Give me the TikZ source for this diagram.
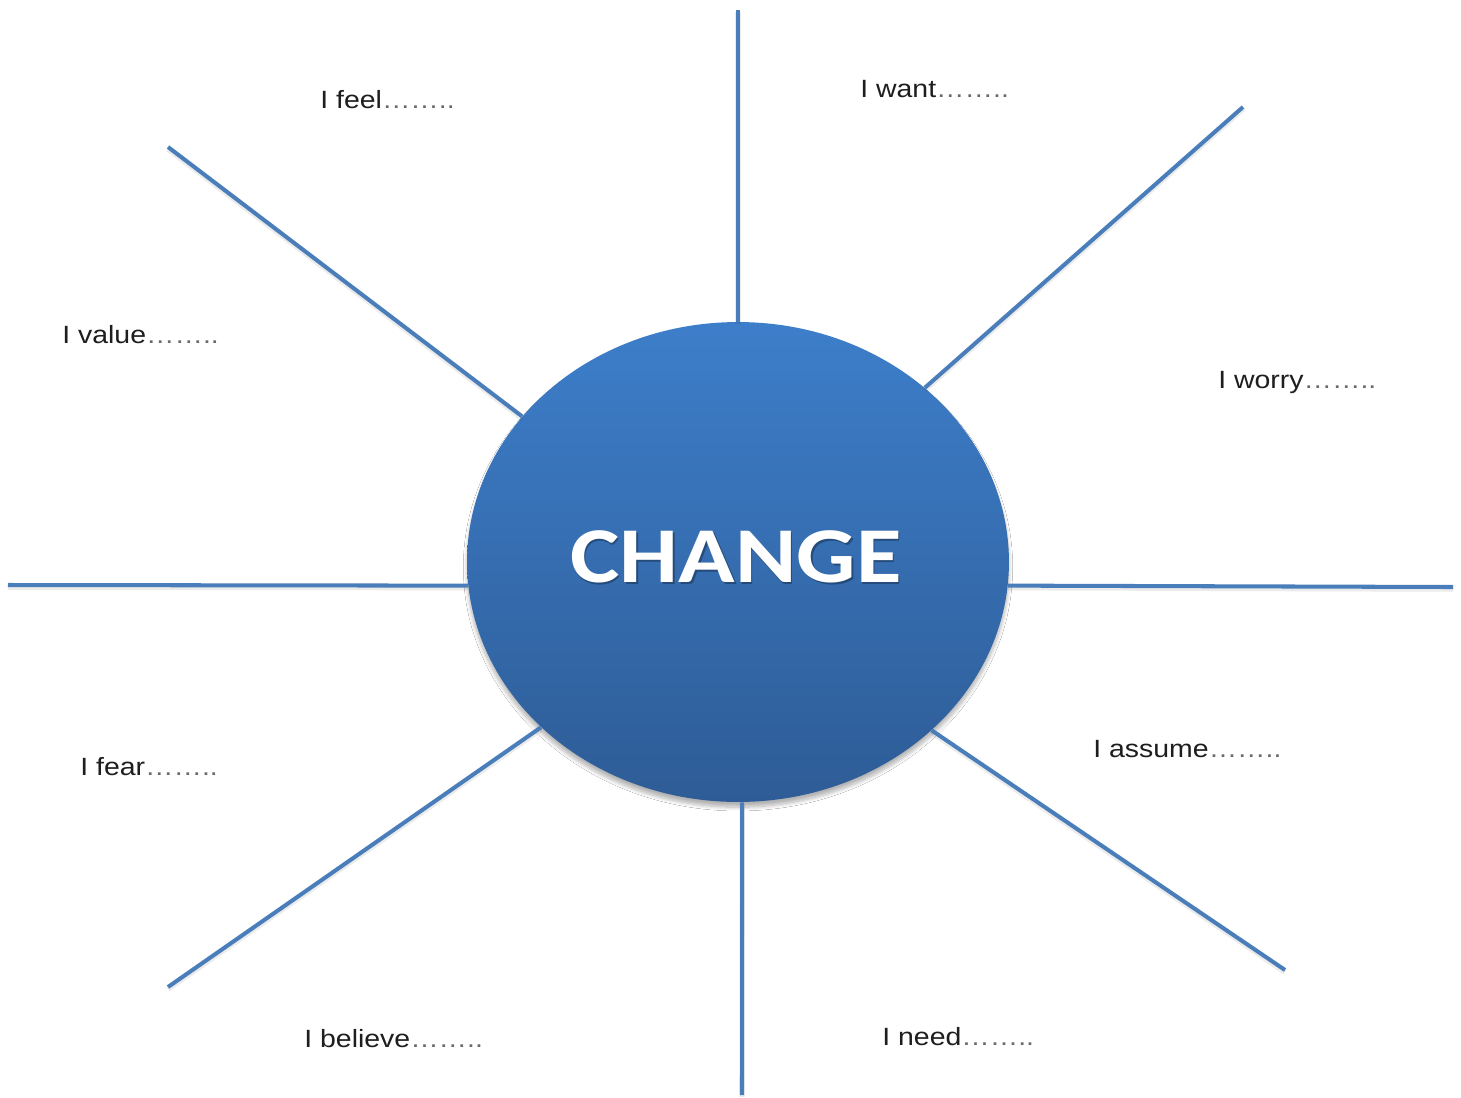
\documentclass[tikz,border=0pt]{standalone}
\usepackage{fontspec}
\setmainfont{Liberation Sans}
\newfontfamily\labelfont[FakeStretch=1.14]{Liberation Sans}
\newfontfamily\hubfont[FakeStretch=1.18]{Carlito}
\usetikzlibrary{shapes.geometric,shadows.blur}
\definecolor{spokeblue}{RGB}{74,126,187}
\definecolor{hubtop}{RGB}{61,126,202}
\definecolor{hubbot}{RGB}{46,92,150}
\definecolor{ink}{RGB}{30,30,30}
\definecolor{dotgray}{RGB}{105,105,105}
\newcommand\dts{{\color{dotgray}……..}}

\begin{document}
\begin{tikzpicture}[x=0.02cm, y=-0.02cm,
	hub/.style={ellipse, minimum width=10.84cm, minimum height=9.6cm, inner sep=0pt,
		top color=hubtop, bottom color=hubbot,
		blur shadow={shadow xshift=0pt, shadow yshift=-3pt, shadow blur steps=8, shadow opacity=30}},
	hubword/.style={text=white, font=\hubfont\bfseries\fontsize{45pt}{45pt}\selectfont, inner sep=0pt},
	spoke/.style={draw=spokeblue, line width=2.3pt,
		preaction={draw=black, opacity=0.08, line width=3pt, transform canvas={yshift=-1.2pt}}},
	word/.style={anchor=west, text=ink, font=\labelfont\fontsize{14.2pt}{17pt}\selectfont, inner sep=0pt}]
\fill[white] (0,0) rectangle (1461,1097);

\node[hub] (change) at (738,562) {};
\node[hubword, text=black, opacity=0.3] (hubshade) at ([shift={(0.9pt,-1.2pt)}]736,557) {CHANGE};
\node[hubword] (hubtext) at (736,557) {CHANGE};

\coordinate (n) at (738,10);
\coordinate (ne) at (1243,107);
\coordinate (e) at (1453,587);
\coordinate (se) at (1285,970);
\coordinate (s) at (742,1095);
\coordinate (sw) at (168,987);
\coordinate (w) at (8,585);
\coordinate (nw) at (168,147);

\foreach \a/\p in {90/n, 43.4/ne, 355.1/e, 319/se, 271.7/s, 220/sw, 185/w, 146.3/nw}
	\draw[spoke] (change.\a) -- (\p);

\node[word] (feel) at (320,100) {I feel\dts};
\node[word] (want) at (860,89) {I want\dts};
\node[word] (value) at (62,335) {I value\dts};
\node[word] (worry) at (1218,382) {I worry\dts};
\node[word] (fear) at (80,767) {I fear\dts};
\node[word] (assume) at (1093,749) {I assume\dts};
\node[word] (believe) at (304,1039) {I believe\dts};
\node[word] (need) at (882,1037) {I need\dts};
\end{tikzpicture}
\end{document}
